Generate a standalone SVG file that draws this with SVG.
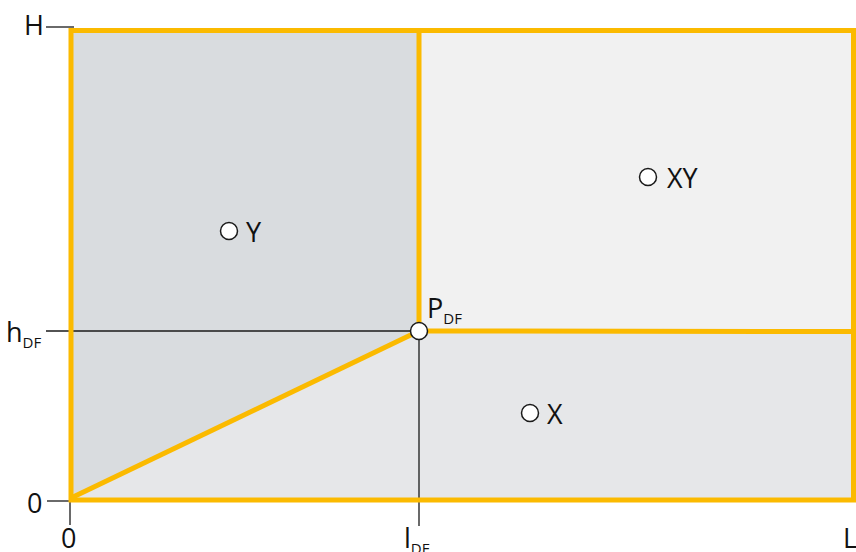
<svg xmlns="http://www.w3.org/2000/svg" width="856" height="552" viewBox="0 0 856 552">
<style>
.reg{stroke:none}
.edge{fill:none;stroke:#FBBA00;stroke-width:5;stroke-linejoin:miter}
.ax{stroke:#1a1a1a;stroke-width:1.3;fill:none}
.pt{fill:#fff;stroke:#1a1a1a;stroke-width:1.5}
text{font-family:"Open Sans","Noto Sans",sans-serif;font-size:27px;fill:#111}
.sub{font-size:15px}
</style>
<rect width="856" height="552" fill="#fff"/>
<g id="regions">
<polygon id="regionY" class="reg" fill="#D9DCDF" points="71,30.5 419,30.5 419,331 71,498"/>
<polygon id="regionXY" class="reg" fill="#F1F1F1" points="419,30.5 853.5,30.5 853.5,331.5 419,331"/>
<polygon id="regionX" class="reg" fill="#E6E7E9" points="71,498 419,331 853.5,331.5 853.5,500 71,500"/>
</g>
<g id="connectors">
<line class="ax" x1="46" y1="27" x2="74" y2="27"/>
<line class="ax" x1="46" y1="331" x2="419" y2="331"/>
<line class="ax" x1="47" y1="501" x2="70" y2="501"/>
<line class="ax" x1="70" y1="500" x2="70" y2="525"/>
<line class="ax" x1="419" y1="331" x2="419" y2="526"/>
<polyline class="edge" points="419,30.5 419,331 853.5,331.5"/>
<line class="edge" x1="71" y1="498" x2="419" y2="331"/>
<rect class="edge" x="71" y="30.5" width="782.5" height="469.5"/>
</g>
<g id="labels">
<text x="24" y="35">H</text>
<text x="6" y="342">h<tspan class="sub" dy="6">DF</tspan></text>
<text x="27" y="513">0</text>
<text x="61" y="548">0</text>
<text x="404" y="548">l<tspan class="sub" dy="6">DF</tspan></text>
<text x="843" y="548">L</text>
</g>
<g id="nodeP">
<circle class="pt" cx="419" cy="331" r="8.5"/>
<text x="427" y="318">P<tspan class="sub" dy="6">DF</tspan></text>
</g>
<g id="nodeY">
<circle class="pt" cx="229" cy="231" r="8.5"/>
<text x="246" y="242">Y</text>
</g>
<g id="nodeXY">
<circle class="pt" cx="648" cy="177" r="8.5"/>
<text x="667" y="188">XY</text>
</g>
<g id="nodeX">
<circle class="pt" cx="530" cy="413" r="8.5"/>
<text x="547" y="424">X</text>
</g>
</svg>
